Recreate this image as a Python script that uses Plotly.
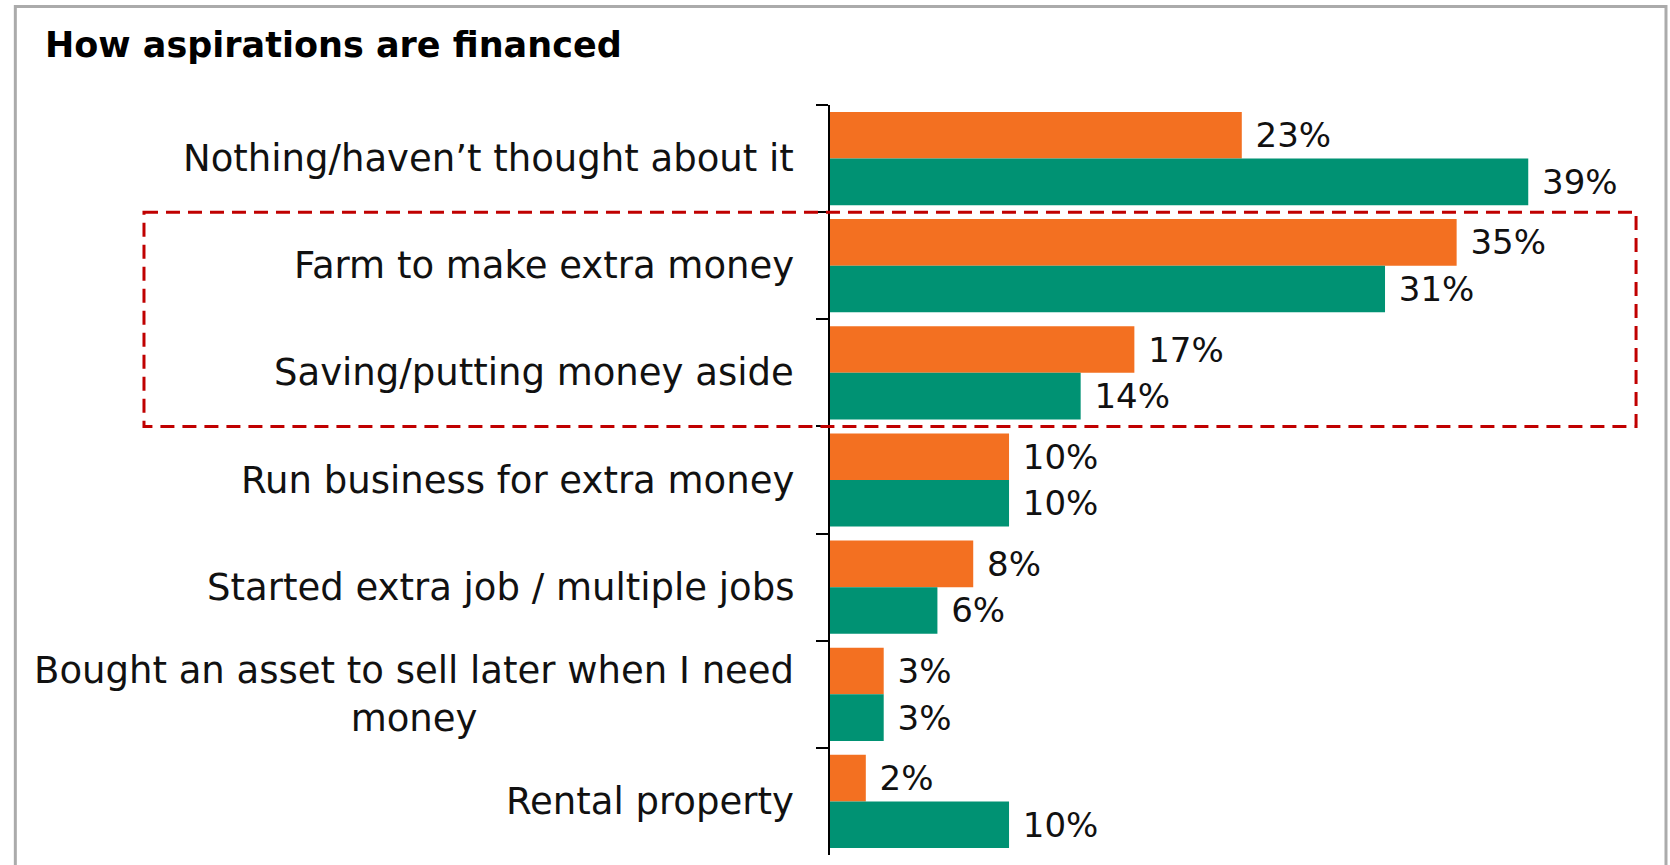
import plotly.graph_objects as go

# Survey answers: how people finance their aspirations (share of respondents, %)
categories = [
    "Nothing/haven\u2019t thought about it",
    "Farm to make extra money",
    "Saving/putting money aside",
    "Run business for extra money",
    "Started extra job / multiple jobs",
    "Bought an asset to sell later when I need<br>money",
    "Rental property",
]
series_orange = [23, 35, 17, 10, 8, 3, 2]
series_green = [39, 31, 14, 10, 6, 3, 10]

ORANGE = "#F37021"
GREEN = "#009273"
FONT = "DejaVu Sans"
VALUE_SIZE = 34
CAT_SIZE = 37

fig = go.Figure()
for vals, color in ((series_orange, ORANGE), (series_green, GREEN)):
    fig.add_trace(go.Bar(
        y=categories,
        x=vals,
        orientation="h",
        marker=dict(color=color, line=dict(width=0)),
        text=[f" {v}%" for v in vals],
        textposition="outside",
        textfont=dict(family=FONT, size=VALUE_SIZE, color="#111111"),
        constraintext="none",
        cliponaxis=False,
        hoverinfo="skip",
    ))

# Category labels drawn as annotations so wrapped lines stay centred
annotations = [
    dict(
        x=-0.041, xref="paper", y=cat, yref="y",
        text=cat, showarrow=False, xanchor="right", yanchor="middle",
        align="center", font=dict(family=FONT, size=CAT_SIZE, color="#111111"),
    )
    for cat in categories
]
annotations.append(dict(
    x=-0.96, xref="paper", y=1.08, yref="paper",
    text="<b>How aspirations are financed</b>", showarrow=False,
    xanchor="left", yanchor="middle",
    font=dict(family=FONT, size=35, color="#000000"),
))

shapes = [
    # outer frame
    dict(type="rect", xref="paper", yref="paper",
         x0=-0.9935, x1=1.0195, y0=-0.05, y1=1.1315,
         line=dict(color="#ABABAB", width=3), fillcolor="rgba(0,0,0,0)", layer="below"),
    # highlight box around the two middle answers
    dict(type="rect", xref="paper", yref="y",
         x0=-0.8366, x1=0.983, y0=0.5, y1=2.5,
         line=dict(color="#C00000", width=3, dash="14px,8px"),
         fillcolor="rgba(0,0,0,0)"),
]

fig.update_layout(
    width=1670, height=865,
    margin=dict(l=830, r=20, t=105, b=10),
    paper_bgcolor="white", plot_bgcolor="white",
    barmode="group", bargap=0.13, bargroupgap=0,
    showlegend=False,
    annotations=annotations,
    shapes=shapes,
    xaxis=dict(range=[0, 45.8], visible=False),
    yaxis=dict(
        type="category", range=[6.5, -0.5],
        showticklabels=False, showgrid=False, zeroline=False,
        showline=True, linecolor="#000000", linewidth=2,
        ticks="outside", tickson="boundaries", ticklen=12,
        tickcolor="#000000", tickwidth=2,
    ),
)

fig.write_html("out.html")
